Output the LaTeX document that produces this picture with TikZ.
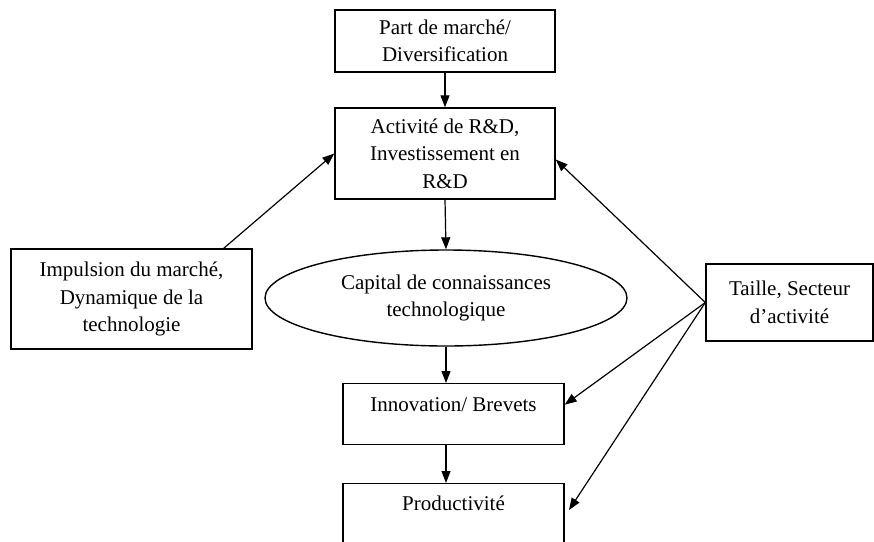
\documentclass[tikz,border=0pt]{standalone}
\usepackage{fontspec}
\setmainfont{Liberation Serif}
\usetikzlibrary{shapes.geometric,arrows.meta,calc}
\begin{document}
\begin{tikzpicture}[x=1pt,y=-1pt,
  txt/.style={font=\fontsize{21}{27.5}\selectfont, align=center, inner sep=0pt},
  box/.style={txt, draw, rectangle, line width=1.4pt},
  ell/.style={txt, draw, ellipse, line width=1.4pt},
  arr/.style={line width=1.2pt, -{Triangle[length=12pt,width=9pt]}}]
\useasboundingbox (0,0) rectangle (874,541);
\clip (0,0) rectangle (874,541);
\node[box, minimum width=220pt, minimum height=62pt] (part) at (445,41) {Part de marché/\\Diversification};
\node[box, minimum width=220pt, minimum height=91pt] (act) at (445,153.5) {Activité de R\&D,\\Investissement en\\R\&D};
\node[ell, minimum width=362pt, minimum height=96pt] (cap) at (446,298) {Capital de connaissances\\technologique};
\node[box, minimum width=221pt, text height=27.7pt, text depth=33.3pt, anchor=north] (inn) at (453.5,383) {Innovation/ Brevets};
\node[box, minimum width=221pt, text height=26.5pt, text depth=60pt, anchor=north] (prod) at (453.5,483) {Productivité};
\node[box, minimum width=241pt, minimum height=100pt] (imp) at (131.5,299) {Impulsion du marché,\\Dynamique de la\\technologie};
\node[box, minimum width=167pt, minimum height=77pt] (tai) at (789.5,302.5) {Taille, Secteur\\d’activité};
\coordinate (impout) at ($(imp.north east)+(-29,0)$);
\coordinate (actin) at ($(act.east)+(0,6)$);
\coordinate (innin) at ($(inn.east)+(0,-9.5)$);
\coordinate (prodin) at (569,510);
\draw[arr] (part.south) -- (act.north);
\draw[arr] (act.south) -- (cap.north);
\draw[arr] (cap.south) -- (cap.south |- inn.north);
\draw[arr] (cap.south |- inn.south) -- (cap.south |- prod.north);
\draw[arr] (impout) -- (act.west);
\draw[arr] (tai.west) -- (actin);
\draw[arr] (tai.west) -- (innin);
\draw[arr] (tai.west) -- (prodin);
\end{tikzpicture}
\end{document}
